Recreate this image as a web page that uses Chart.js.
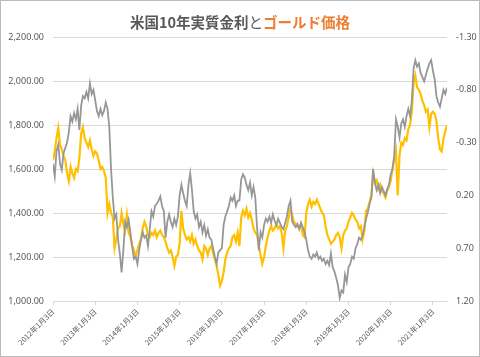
<!DOCTYPE html>
<html>
<head>
<meta charset="utf-8">
<script src="https://cdn.jsdelivr.net/npm/chart.js@4.4.1/dist/chart.umd.min.js"></script>
<style>
  html, body { margin: 0; padding: 0; background: #fff; }
  #wrap { position: relative; width: 480px; height: 357px; box-sizing: border-box; border: 1px solid #bcbcbc; overflow: hidden; }
  #title { position: absolute; left: 0; right: 0; top: 11px; text-align: center; font-family: "Noto Sans CJK JP", "Noto Sans", sans-serif; font-weight: bold; font-size: 14.5px; line-height: 20px; color: #595959; white-space: nowrap; }
  #title .gold { color: #ED7D31; }
  #title .to { font-weight: normal; }
  canvas { position: absolute; left: -1px; top: -1px; }
</style>
</head>
<body>
<div id="wrap">
  <canvas id="c" width="480" height="357"></canvas>
  <div id="title">米国10年実質金利<span class="to">と</span><span class="gold">ゴールド価格</span></div>
</div>
<script>
// Semi-monthly samples from 2012-01-03 to 2021-05 (24 per year)
const yearTickLabels = ['2012年1月3日','2013年1月3日','2014年1月3日','2015年1月3日','2016年1月3日','2017年1月3日','2018年1月3日','2019年1月3日','2020年1月3日','2021年1月3日'];
const samplesPerYear = 24;

// Gold price (USD/oz), left axis
const goldPrice = [
  1640,1680,1740,1786,1710,1690,1660,1640,1580,1545,1610,1580,1560,1600,1590,1650,1760,1790,1740,1720,1700,1730,1690,1660,
  1680,1670,1640,1600,1610,1590,1560,1400,1440,1400,1380,1240,1280,1330,1340,1400,1350,1320,1390,1310,1290,1250,1230,1205,
  1230,1260,1280,1330,1360,1340,1300,1290,1310,1300,1320,1290,1310,1320,1300,1290,1270,1240,1220,1230,1200,1160,1200,1210,
  1260,1410,1330,1300,1280,1290,1270,1300,1260,1280,1250,1230,1220,1190,1250,1240,1210,1240,1250,1220,1190,1160,1120,1070,
  1090,1130,1190,1220,1240,1250,1290,1300,1270,1310,1250,1380,1410,1390,1420,1380,1400,1370,1330,1310,1300,1250,1210,1170,
  1200,1250,1290,1320,1340,1320,1330,1350,1330,1340,1310,1240,1320,1340,1380,1420,1390,1360,1350,1340,1330,1350,1300,1290,
  1400,1440,1460,1430,1450,1440,1460,1440,1420,1400,1390,1340,1300,1280,1260,1270,1280,1300,1310,1290,1240,1300,1320,1330,
  1360,1380,1400,1390,1370,1360,1330,1340,1280,1320,1410,1420,1450,1480,1580,1540,1550,1510,1530,1500,1490,1470,1500,1520,
  1545,1600,1640,1680,1480,1660,1720,1710,1740,1730,1780,1800,1860,1990,2025,1970,1960,1940,1910,1890,1860,1870,1790,1850,
  1860,1850,1820,1740,1690,1680,1740,1770,1800
];

// US 10-year real yield (%), right axis (reversed)
const realRate10y = [
  -0.10,0.02,-0.22,-0.28,-0.10,-0.04,-0.20,-0.25,-0.30,-0.40,-0.55,-0.50,-0.58,-0.52,-0.62,-0.42,-0.65,-0.74,-0.72,-0.78,-0.72,-0.86,-0.76,-0.80,
  -0.70,-0.60,-0.55,-0.62,-0.56,-0.60,-0.68,-0.62,-0.45,-0.05,0.22,0.42,0.38,0.62,0.75,0.93,0.72,0.45,0.50,0.43,0.55,0.68,0.80,0.78,
  0.85,0.72,0.62,0.55,0.60,0.58,0.68,0.52,0.35,0.40,0.30,0.28,0.25,0.21,0.30,0.35,0.60,0.45,0.38,0.45,0.50,0.42,0.48,0.40,
  0.20,0.10,0.18,0.25,0.30,0.10,-0.01,0.15,0.35,0.42,0.38,0.50,0.45,0.55,0.48,0.58,0.52,0.60,0.62,0.70,0.78,0.85,0.74,0.72,
  0.70,0.48,0.40,0.35,0.30,0.22,0.25,0.20,0.30,0.25,0.25,0.05,0.00,0.03,0.10,0.15,0.08,0.20,0.12,0.22,0.50,0.72,0.55,0.60,
  0.48,0.42,0.45,0.40,0.46,0.38,0.44,0.48,0.42,0.46,0.50,0.52,0.46,0.40,0.30,0.25,0.45,0.48,0.50,0.47,0.52,0.46,0.50,0.55,
  0.62,0.72,0.78,0.80,0.76,0.78,0.74,0.80,0.78,0.82,0.80,0.85,0.82,0.86,0.75,0.88,0.92,0.98,1.05,1.17,1.10,1.12,0.95,1.02,
  0.88,0.85,0.78,0.80,0.70,0.66,0.60,0.62,0.58,0.50,0.42,0.36,0.28,0.22,-0.05,0.08,0.15,0.10,0.18,0.12,0.16,0.20,0.14,0.10,
  0.00,-0.05,-0.18,-0.52,-0.45,-0.35,-0.48,-0.52,-0.45,-0.55,-0.62,-0.55,-0.70,-1.00,-1.08,-1.02,-1.05,-0.96,-0.92,-0.88,-0.94,-1.00,-1.05,-1.08,
  -0.98,-0.90,-0.74,-0.68,-0.64,-0.72,-0.80,-0.76,-0.82
];

const leftTicks = [1000,1200,1400,1600,1800,2000,2200];
const rightTicks = [-1.3,-0.8,-0.3,0.2,0.7,1.2];

const sampleIndex = goldPrice.map((_, i) => i);
const tickFont = { family: '"Noto Sans", "Noto Sans CJK JP", sans-serif', size: 9 };

new Chart(document.getElementById('c'), {
  type: 'line',
  data: {
    labels: sampleIndex,
    datasets: [
      { label: '米国10年実質金利', data: realRate10y, yAxisID: 'yR', borderColor: '#979797', borderWidth: 1.8, pointRadius: 0, tension: 0, fill: false },
      { label: 'ゴールド価格', data: goldPrice, yAxisID: 'yL', borderColor: '#FFC000', borderWidth: 2.2, pointRadius: 0, tension: 0, fill: false }
    ]
  },
  options: {
    responsive: false,
    animation: false,
    devicePixelRatio: 1,
    layout: { padding: { top: 37, left: 0, right: 0, bottom: 0 } },
    plugins: { legend: { display: false }, tooltip: { enabled: false }, title: { display: false } },
    scales: {
      x: {
        type: 'linear',
        min: 0,
        max: goldPrice.length - 1,
        afterBuildTicks: (s) => { s.ticks = yearTickLabels.map((_, k) => ({ value: k * samplesPerYear })); },
        afterFit: (s) => { s.height = 56; },
        ticks: {
          autoSkip: false, minRotation: 45, maxRotation: 45, padding: 2,
          color: '#595959', font: { family: '"Noto Sans CJK JP", sans-serif', size: 7.5 },
          callback: (v) => yearTickLabels[Math.round(v / samplesPerYear)]
        },
        grid: { drawOnChartArea: false, drawTicks: true, tickLength: 4, color: '#d9d9d9' },
        border: { display: true, color: '#d9d9d9' }
      },
      yL: {
        position: 'left',
        min: 1000, max: 2200,
        afterBuildTicks: (s) => { s.ticks = leftTicks.map(v => ({ value: v })); },
        afterFit: (s) => { s.width = 53; },
        ticks: { color: '#595959', font: tickFont, padding: 9,
          callback: (v) => v.toLocaleString('en-US', { minimumFractionDigits: 2, maximumFractionDigits: 2 }) },
        grid: { color: '#d9d9d9', lineWidth: 1, drawTicks: false },
        border: { display: false }
      },
      yR: {
        position: 'right',
        reverse: true,
        min: -1.3, max: 1.2,
        afterBuildTicks: (s) => { s.ticks = rightTicks.map(v => ({ value: v })); },
        afterFit: (s) => { s.width = 33; },
        ticks: { color: '#595959', font: tickFont, padding: 9, callback: (v) => v.toFixed(2) },
        grid: { drawOnChartArea: false, drawTicks: false },
        border: { display: false }
      }
    }
  }
});
</script>
</body>
</html>
